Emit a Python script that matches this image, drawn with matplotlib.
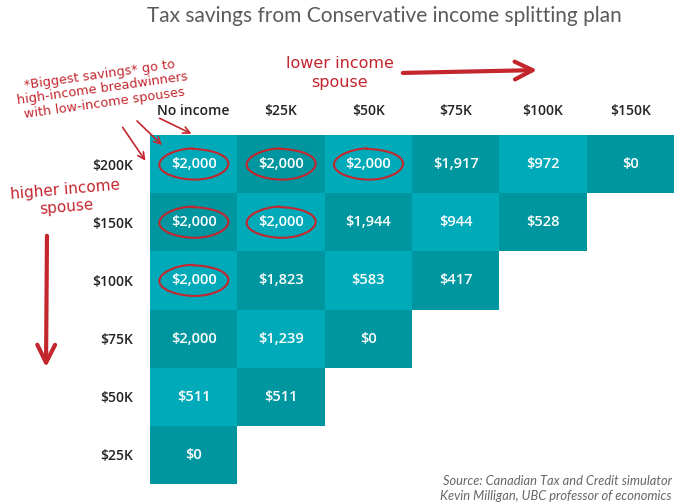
import numpy as np
import matplotlib.pyplot as plt
from matplotlib.colors import ListedColormap
from matplotlib.patches import Ellipse, FancyArrowPatch

# data
spouse_cols = ['No income', '$25K', '$50K', '$75K', '$100K', '$150K']
earner_rows = ['$200K', '$150K', '$100K', '$75K', '$50K', '$25K']
savings = [
    [2000, 2000, 2000, 1917, 972, 0],
    [2000, 2000, 1944, 944, 528],
    [2000, 1823, 583, 417],
    [2000, 1239, 0],
    [511, 511],
    [0],
]
# cells circled as "biggest savings"
circled = [(0, 0), (0, 1), (0, 2), (1, 0), (1, 1), (2, 0)]

RED = '#c4262e'
LIGHT = '#00aab9'
DARK = '#00969f'
HAND = ['Liberation Sans Narrow', 'DejaVu Sans']


def main():
    n = len(spouse_cols)
    grid = np.full((n, n), np.nan)
    for i, row in enumerate(savings):
        grid[i, :len(row)] = row
    parity = np.indices((n, n)).sum(axis=0) % 2
    shade = np.ma.masked_where(np.isnan(grid), parity)

    fig = plt.figure(figsize=(6.84, 5.04), dpi=100)
    W, H = 684, 504
    ax = fig.add_axes([150 / W, 1 - 484 / H, 524 / W, 349 / H])
    ax.pcolormesh(np.arange(n + 1), np.arange(n + 1), shade,
                  cmap=ListedColormap([LIGHT, DARK]), vmin=0, vmax=1)
    ax.set_xlim(0, n)
    ax.set_ylim(n, 0)
    for s in ax.spines.values():
        s.set_visible(False)

    ax.set_xticks(np.arange(n) + 0.5)
    ax.set_xticklabels(spouse_cols)
    ax.set_yticks(np.arange(n) + 0.5)
    ax.set_yticklabels(earner_rows)
    ax.xaxis.tick_top()
    ax.tick_params(length=0, labelsize=10, labelcolor='#222222')
    ax.tick_params(axis='x', pad=12.5)
    ax.tick_params(axis='y', pad=12)
    for lab in ax.get_xticklabels() + ax.get_yticklabels():
        lab.set_fontfamily('Open Sans')
        lab.set_fontweight('semibold')

    for i, row in enumerate(savings):
        for j, v in enumerate(row):
            ax.text(j + 0.5, i + 0.5, f'${v:,}', ha='center', va='center',
                    color='white', fontsize=10.5, family='Open Sans',
                    fontweight='semibold')

    for (i, j) in circled:
        e = Ellipse((j + 0.5, i + 0.5), 0.8, 0.52, angle=-3, fill=False,
                    edgecolor=RED, linewidth=1.5)
        e.set_sketch_params(0.6, 80, 1)
        ax.add_patch(e)

    # overlay in pixel coords for the hand-drawn notes
    ov = fig.add_axes([0, 0, 1, 1], facecolor='none')
    ov.set_xlim(0, W)
    ov.set_ylim(H, 0)
    ov.axis('off')

    ov.text(384, 16, 'Tax savings from Conservative income splitting plan',
            ha='center', va='center', fontsize=15, color='#5a5a5a',
            family='Lato', fontweight='normal')

    ov.text(102, 89, '*Biggest savings* go to\nhigh-income breadwinners\nwith low-income spouses',
            ha='center', va='center', rotation=8, color=RED, fontsize=9.3,
            family=HAND, linespacing=1.15)
    ov.text(340, 73, 'lower income\nspouse', ha='center', va='center',
            color=RED, fontsize=11.5, family=HAND, linespacing=1.25)
    ov.text(66, 198, 'higher income\nspouse', ha='center', va='center',
            rotation=5, color=RED, fontsize=11, family=HAND, linespacing=1.2)

    arrows = [((400, 73), (540, 70), 3.0, 32),
              ((47, 233), (46, 370), 3.0, 32),
              ((121, 125), (147, 163), 1.2, 12),
              ((135, 119), (164, 147), 1.2, 12),
              ((157, 117), (194, 135), 1.2, 12)]
    for start, end, lw, ms in arrows:
        a = FancyArrowPatch(start, end, arrowstyle='->', mutation_scale=ms,
                            color=RED, linewidth=lw, capstyle='round')
        ov.add_patch(a)

    ov.text(672, 481, 'Source: Canadian Tax and Credit simulator', ha='right',
            va='center', fontsize=9.3, style='italic', color='#666666', family='Lato')
    ov.text(672, 496, 'Kevin Milligan, UBC professor of economics', ha='right',
            va='center', fontsize=9.3, style='italic', color='#666666', family='Lato')

    fig.savefig('out.png', dpi=100, facecolor='white')
    plt.close(fig)


if __name__ == '__main__':
    main()
